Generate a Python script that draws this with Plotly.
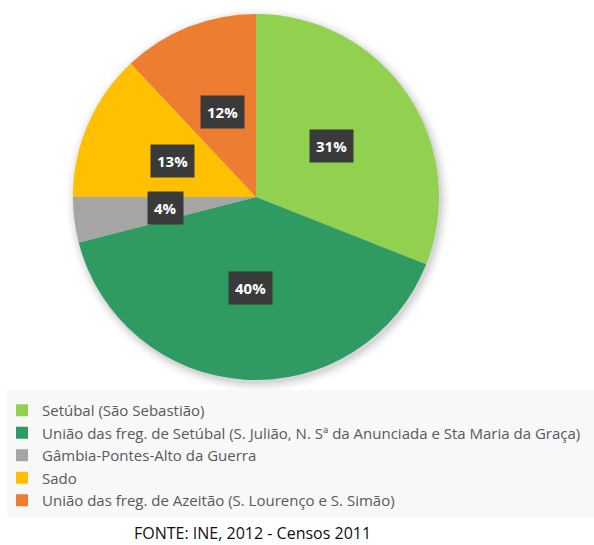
import math
import plotly.graph_objects as go

labels = [
    "Setúbal (São Sebastião)",
    "União das freg. de Setúbal (S. Julião, N. Sª da Anunciada e Sta Maria da Graça)",
    "Gâmbia-Pontes-Alto da Guerra",
    "Sado",
    "União das freg. de Azeitão (S. Lourenço e S. Simão)",
]
values = [31, 40, 4, 13, 12]
colors = ["#92D050", "#2F9B62", "#A5A5A5", "#FFC000", "#ED7D31"]
source_text = "FONTE: INE, 2012 - Censos 2011"

W, H = 594, 545
cx, cy, R = 256, 197, 183  # pie center / radius in pixels
dom_x = [(cx - R) / W, (cx + R) / W]
dom_y = [1 - (cy + R) / H, 1 - (cy - R) / H]

fig = go.Figure()
fig.add_trace(go.Pie(
    labels=labels, values=values, sort=False, direction="clockwise",
    rotation=0, marker=dict(colors=colors, line=dict(width=0)),
    textinfo="none", hoverinfo="label+percent",
    domain=dict(x=dom_x, y=dom_y),
))

# percentage labels with dark boxes, placed at mid-angle of each slice
total = sum(values)
annotations = []
cum = 0
for v in values:
    mid = (cum + v / 2) / total * 2 * math.pi
    cum += v
    px = cx + 0.5 * R * math.sin(mid)
    py = cy - 0.5 * R * math.cos(mid)
    annotations.append(dict(
        x=px / W, y=1 - py / H, xref="paper", yref="paper",
        xanchor="center", yanchor="middle",
        text=f"<b>{round(v / total * 100)}%</b>", showarrow=False,
        font=dict(family="Open Sans", size=15, color="white"),
        bgcolor="#3A3A3A", borderpad=6,
    ))
annotations.append(dict(
    x=252 / W, y=1 - 533 / H, xref="paper", yref="paper", text=source_text,
    showarrow=False, font=dict(family="Open Sans", size=16, color="#111111"),
    xanchor="center", yanchor="middle", borderpad=0,
))

shapes = []
# soft shadow behind pie
for i, a in enumerate([0.05, 0.04, 0.03, 0.02, 0.015]):
    r = R + 1 + i * 2
    shapes.append(dict(
        type="circle", xref="paper", yref="paper", layer="below",
        x0=(cx + 2 - r) / W, x1=(cx + 2 + r) / W,
        y0=1 - (cy + 3 + r) / H, y1=1 - (cy + 3 - r) / H,
        fillcolor=f"rgba(0,0,0,{a})", line=dict(width=0),
    ))
# legend background
shapes.append(dict(
    type="rect", xref="paper", yref="paper", layer="below",
    x0=7 / W, x1=1, y0=1 - 517 / H, y1=1 - 390 / H,
    fillcolor="#F8F8F8", line=dict(width=0),
))

fig.update_layout(
    width=W, height=H, margin=dict(l=0, r=0, t=0, b=0),
    paper_bgcolor="white", plot_bgcolor="white",
    showlegend=True,
    legend=dict(
        x=2 / W, y=1 - 394 / H, xanchor="left", yanchor="top",
        bgcolor="rgba(0,0,0,0)",
        font=dict(family="Open Sans", size=15, color="#595959"),
        itemwidth=30, tracegroupgap=0,
    ),
    annotations=annotations, shapes=shapes,
)

fig.write_html("out.html", config={"displayModeBar": False},
               post_script="document.body.style.margin='0';")
